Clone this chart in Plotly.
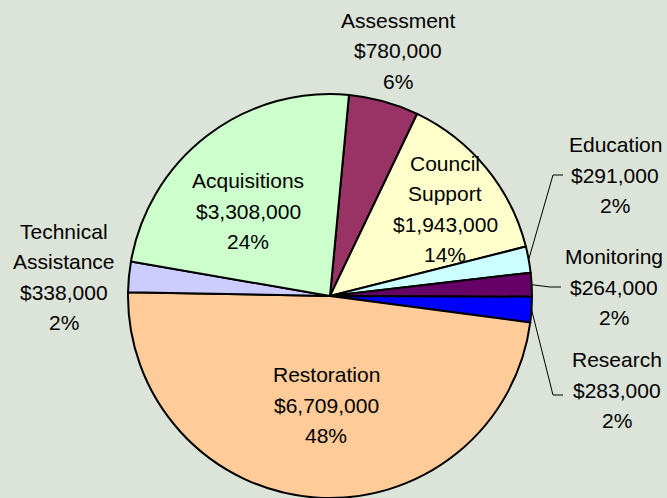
import math
import plotly.graph_objects as go

# ---- data ----
categories = ["Assessment", "Council Support", "Education", "Monitoring",
              "Research", "Restoration", "Technical Assistance", "Acquisitions"]
amounts = [780000, 1943000, 291000, 264000, 283000, 6709000, 338000, 3308000]
name_lines = {
    "Council Support": ["Council", "Support"],
    "Technical Assistance": ["Technical", "Assistance"],
}
colors = ["#993366", "#FFFFCC", "#CCFFFF", "#660066",
          "#0000FF", "#FFCC99", "#CCCCFF", "#CCFFCC"]

# ---- layout geometry (pixels) ----
W, H = 667, 498
ML, MT, MB = 128, 94, 0
SIDE = H - MT - MB          # 404 square plot area
MR = W - ML - SIDE
CX, CY = ML + SIDE / 2, MT + SIDE / 2
R = SIDE / 2
ROTATION = 5.4
BG = "#DCE3D8"
FONT = "Liberation Sans, Arial, sans-serif"
FS = 21
LINE_H = 30.5

def px2paper(px, py):
    return (px - ML) / SIDE, (H - MB - py) / SIDE

# label block centres (pixels) and leader-line knees
label_pos = {
    "Assessment": (398, 51),
    "Council Support": (445, 209),
    "Education": (615, 175),
    "Monitoring": (614, 287),
    "Research": (617, 390),
    "Restoration": (326, 405),
    "Technical Assistance": (64, 277),
    "Acquisitions": (248, 211),
}
leaders = {
    "Education": [(553, 175), (563, 175)],
    "Monitoring": [(550, 287), (561, 287)],
    "Research": [(553, 395), (563, 395)],
}

total = sum(amounts)

fig = go.Figure(go.Pie(
    labels=categories, values=amounts, sort=False, direction="clockwise",
    rotation=ROTATION, textinfo="none", hoverinfo="skip",
    marker=dict(colors=colors, line=dict(color="black", width=2)),
    showlegend=False,
))

annotations = []
shapes = []
cum = 0
for name, val in zip(categories, amounts):
    frac = val / total
    mid = math.radians(ROTATION + 360 * (cum + frac / 2))
    cum += frac
    lines = name_lines.get(name, [name]) + [f"${val:,}", f"{round(frac * 100)}%"]
    lx, ly = label_pos[name]
    n = len(lines)
    for i, t in enumerate(lines):
        py = ly + (i - (n - 1) / 2) * LINE_H
        x, y = px2paper(lx, py)
        annotations.append(dict(x=x, y=y, xref="paper", yref="paper", text=t,
                                showarrow=False, xanchor="center", yanchor="middle",
                                font=dict(family=FONT, size=FS, color="black")))
    if name in leaders:
        sx, sy = CX + R * math.sin(mid), CY - R * math.cos(mid)
        pts = [(sx, sy)] + leaders[name]
        pp = [px2paper(*p) for p in pts]
        path = "M " + " L ".join(f"{a},{b}" for a, b in pp)
        shapes.append(dict(type="path", path=path, xref="paper", yref="paper",
                           line=dict(color="black", width=1)))

fig.update_layout(
    width=W, height=H,
    margin=dict(l=ML, r=MR, t=MT, b=MB, pad=0),
    paper_bgcolor=BG, plot_bgcolor=BG,
    annotations=annotations, shapes=shapes,
)

fig.write_html("out.html", config={"displayModeBar": False},
               post_script="document.body.style.margin='0';document.body.style.overflow='hidden';")
